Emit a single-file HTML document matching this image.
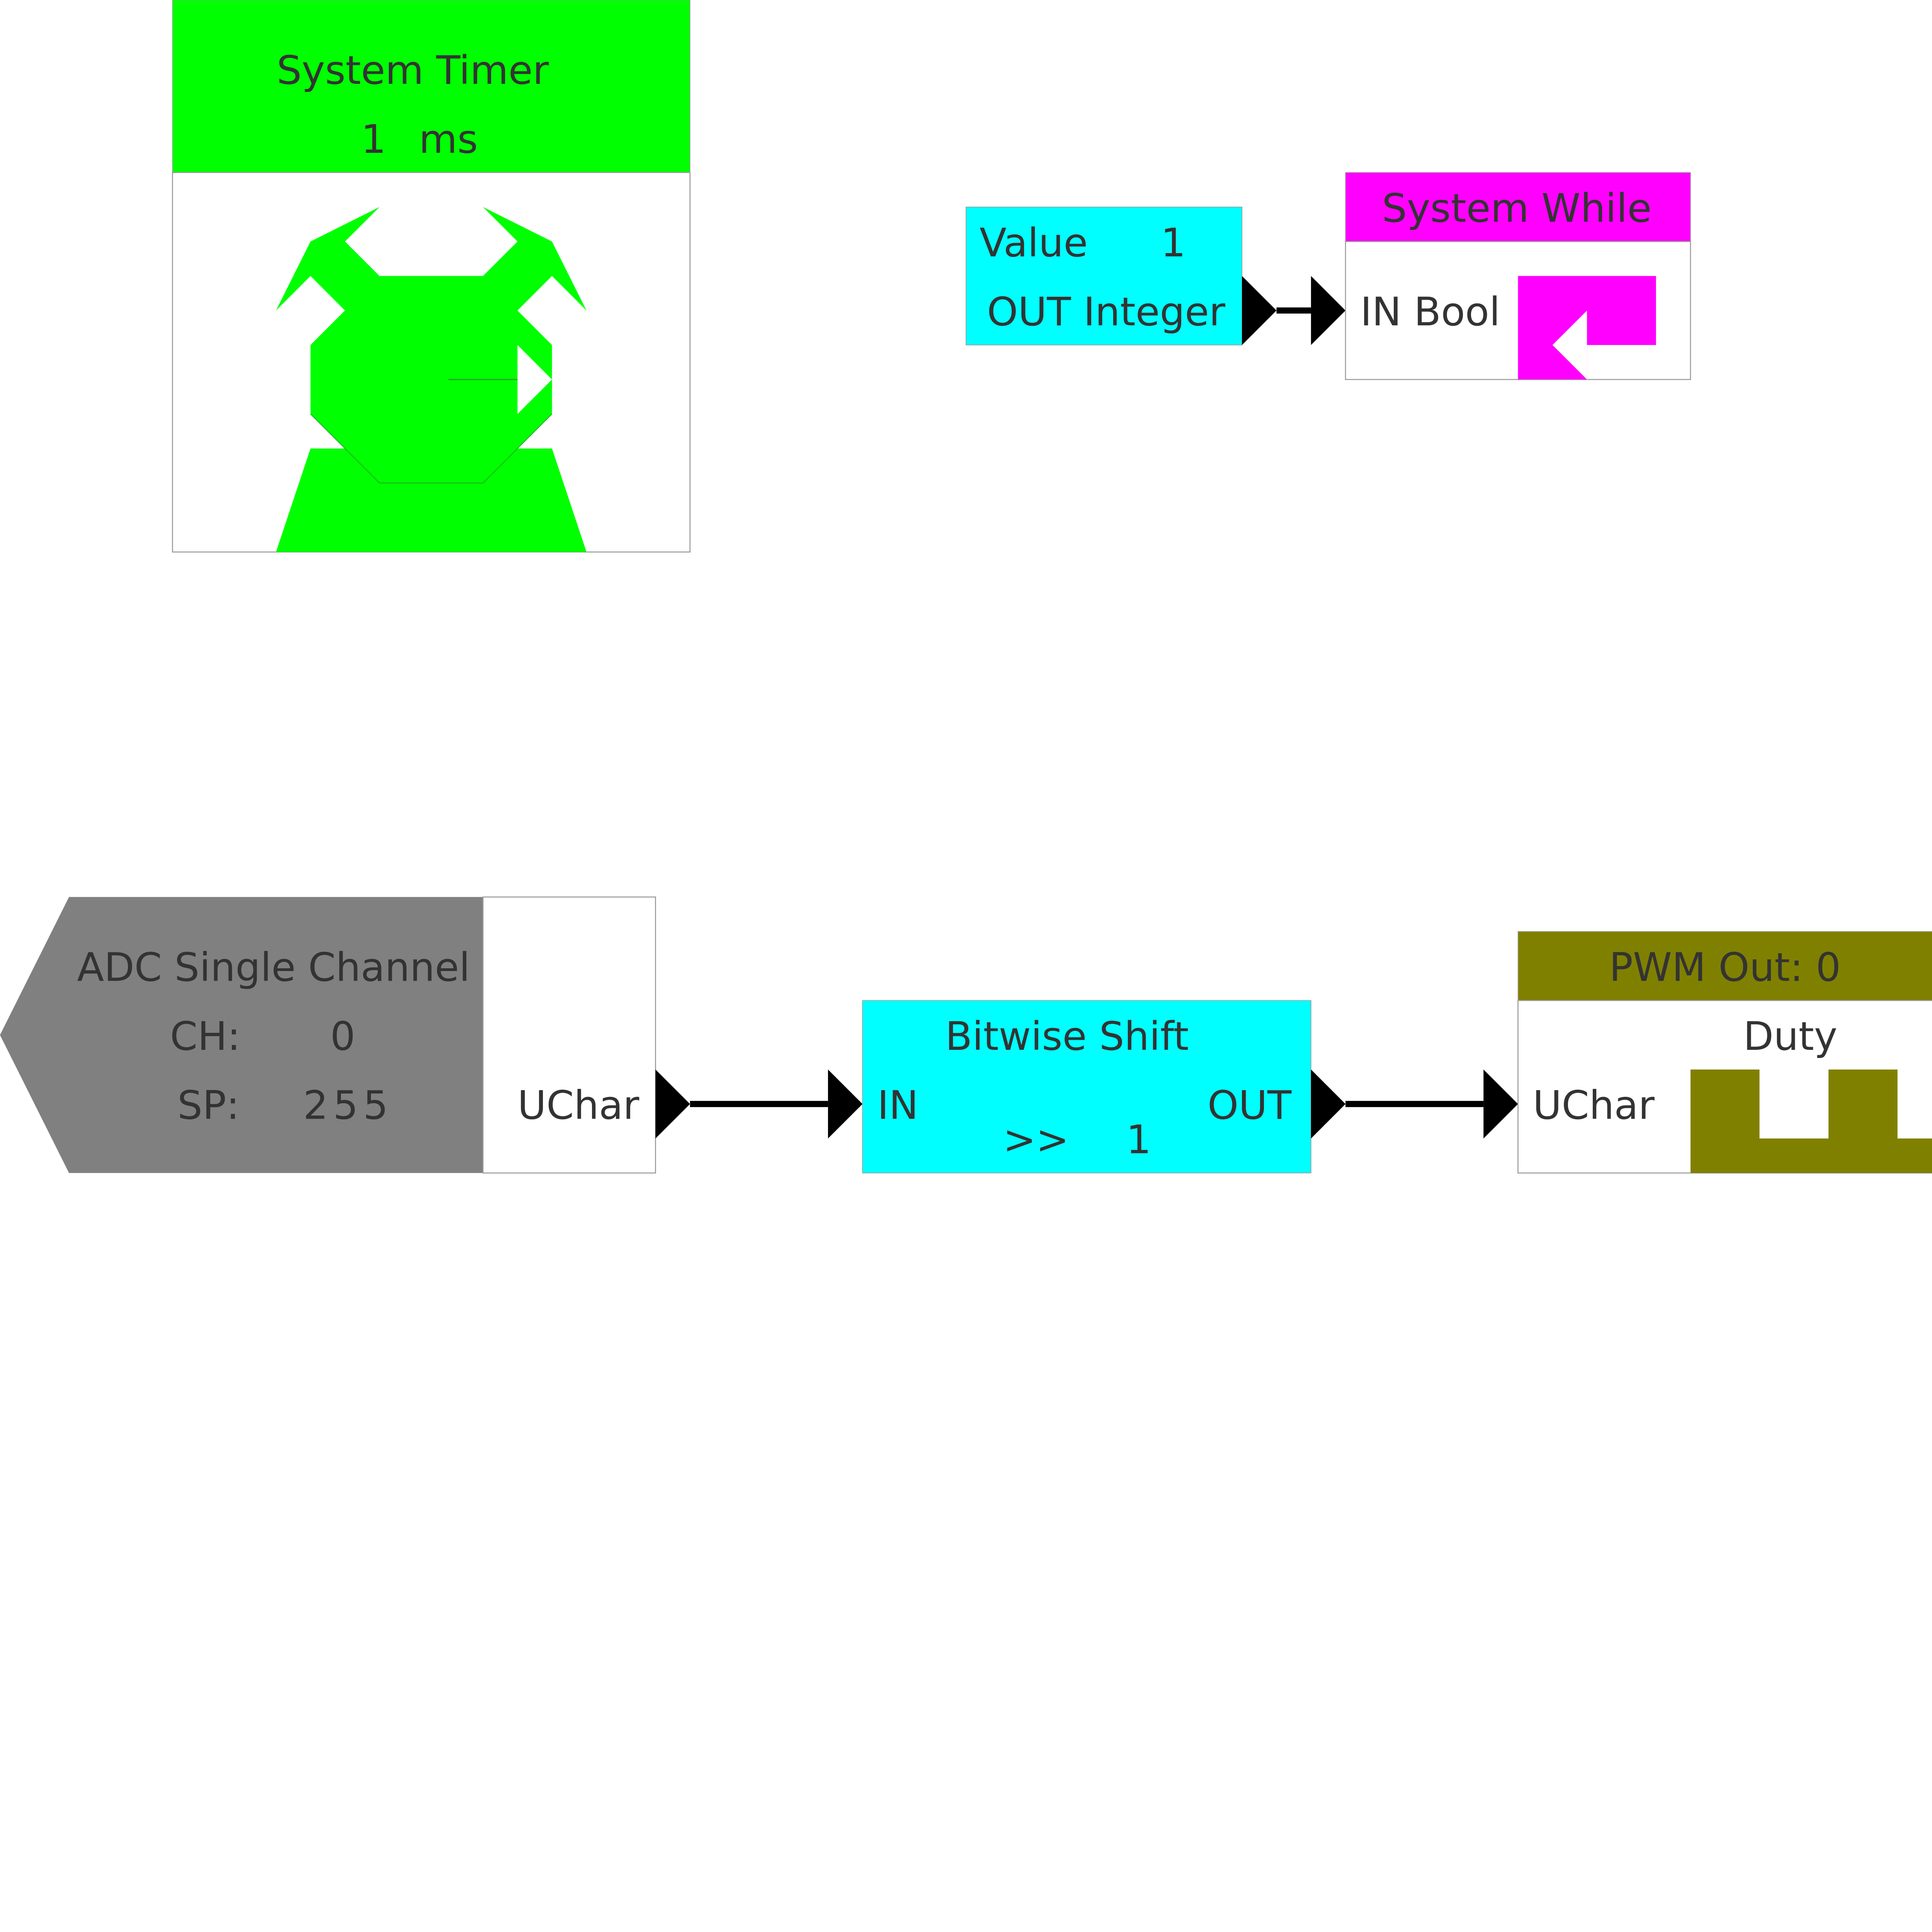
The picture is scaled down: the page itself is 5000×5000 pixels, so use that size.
<!DOCTYPE html>
<html><head><style>html,body{margin:0;padding:0;background:#fff}svg{display:block}</style></head>
<body>
<svg width="5000" height="5000" viewBox="0 0 1568 1568" xmlns="http://www.w3.org/2000/svg" font-family="'DejaVu Sans','Liberation Sans',sans-serif" font-size="32" fill="#333">
<rect x="140" y="0" width="420" height="140" fill="#00ff00" stroke="#999" stroke-width="0.5"/>
<rect x="140" y="140" width="420" height="308" fill="#fff" stroke="#999" stroke-width="0.8"/>
<text x="335" y="68" text-anchor="middle">System Timer</text>
<text x="293" y="124">1</text><text x="340" y="124">ms</text>
<polygon fill="#00ff00" points="308,168 252,196 224,252 252,224 280,252 252,280 252,336 308,392 392,392 448,336 448,280 420,252 448,224 476,252 448,196 392,168 420,196 392,224 308,224 280,196"/>
<polygon fill="#00ff00" points="252,364 448,364 476,448 224,448"/>
<polygon fill="#00ff00" points="280,364 308,392 392,392 420,364"/>
<polygon fill="#fff" points="420,280 448,308 420,336"/>
<line x1="364" y1="308" x2="420" y2="308" stroke="#2a2" stroke-width="1"/>
<polyline fill="none" stroke="#2a2" stroke-width="0.6" points="252,336 308,392 392,392 448,336"/>

<rect x="784" y="168" width="224" height="112" fill="#00ffff" stroke="#999" stroke-width="0.5"/>
<text x="795" y="208">Value</text><text x="942" y="208">1</text>
<text x="801" y="264">OUT Integer</text>
<polygon fill="#000" points="1008,224 1036,252 1008,280"/>
<line x1="1036" y1="252" x2="1064" y2="252" stroke="#000" stroke-width="5"/>
<polygon fill="#000" points="1064,224 1092,252 1064,280"/>

<rect x="1092" y="140" width="280" height="56" fill="#ff00ff" stroke="#999" stroke-width="0.5"/>
<rect x="1092" y="196" width="280" height="112" fill="#fff" stroke="#999" stroke-width="0.8"/>
<text x="1231" y="180" text-anchor="middle">System While</text>
<text x="1104" y="264">IN Bool</text>
<polygon fill="#ff00ff" points="1232,224 1344,224 1344,280 1288,280 1288,308 1232,308"/>
<polygon fill="#fff" points="1288,252 1260,280 1288,308"/>

<polygon fill="#808080" points="56,728 392,728 392,952 56,952 0,840"/>
<rect x="392" y="728" width="140" height="224" fill="#fff" stroke="#999" stroke-width="0.8"/>
<text x="222" y="796" text-anchor="middle">ADC Single Channel</text>
<text x="138" y="852">CH:</text><text x="268" y="852">0</text>
<text x="144" y="908">SP:</text><text x="246" y="908" letter-spacing="4">255</text>
<text x="420" y="908">UChar</text>
<polygon fill="#000" points="532,868 560,896 532,924"/>
<line x1="560" y1="896" x2="672" y2="896" stroke="#000" stroke-width="5"/>
<polygon fill="#000" points="672,868 700,896 672,924"/>

<rect x="700" y="812" width="364" height="140" fill="#00ffff" stroke="#999" stroke-width="0.5"/>
<text x="866" y="852" text-anchor="middle">Bitwise Shift</text>
<text x="712" y="908">IN</text>
<text x="980" y="908">OUT</text>
<text x="814" y="936">&gt;&gt;</text><text x="914" y="936">1</text>
<polygon fill="#000" points="1064,868 1092,896 1064,924"/>
<line x1="1092" y1="896" x2="1204" y2="896" stroke="#000" stroke-width="5"/>
<polygon fill="#000" points="1204,868 1232,896 1204,924"/>

<rect x="1232" y="756" width="340" height="56" fill="#808000" stroke="#999" stroke-width="0.5"/>
<rect x="1232" y="812" width="340" height="140" fill="#fff" stroke="#999" stroke-width="0.8"/>
<text x="1400" y="796" text-anchor="middle">PWM Out: 0</text>
<text x="1453" y="852" text-anchor="middle">Duty</text>
<text x="1244" y="908">UChar</text>
<polygon fill="#808000" points="1372,868 1428,868 1428,924 1484,924 1484,868 1540,868 1540,924 1568,924 1568,952 1372,952"/>
</svg>
</body></html>
